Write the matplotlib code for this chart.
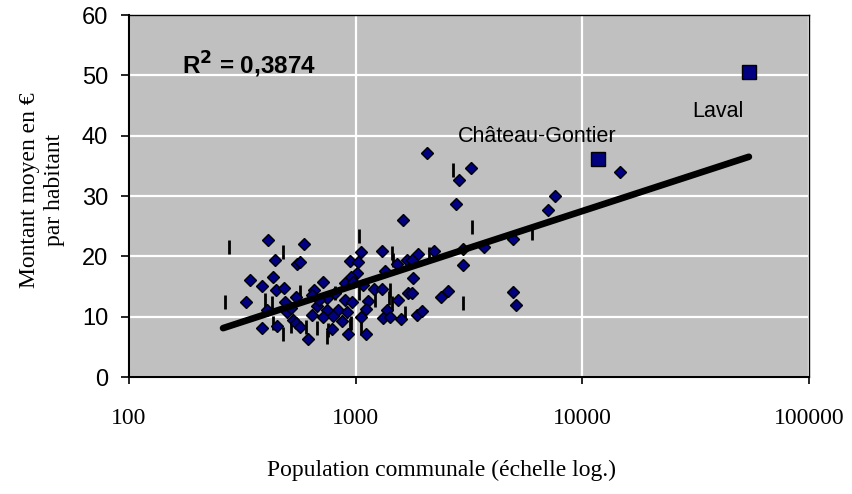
import matplotlib
matplotlib.use("Agg")
import matplotlib.pyplot as plt
from matplotlib.ticker import FixedLocator, FixedFormatter, NullLocator

# ---- data ----
commune_pop = [441, 551, 568, 342, 386, 432, 445, 483, 328, 406, 449, 386, 498, 529, 545,
               568, 616, 488, 545, 410, 592, 518,
               1055, 1306, 944, 1023, 1521, 1683, 1346, 1014, 953, 718, 655, 897, 1077,
               1205, 1306, 1538, 1702, 811, 747, 897, 963, 675, 747, 836, 1133, 1110,
               916, 1374, 641, 718, 794, 1055, 1318, 1416, 1585, 870, 786, 925, 1110,
               641, 690, 973,
               1884, 2213, 1770, 2972, 3682, 4943, 2972, 1791, 1770, 2377, 2553, 4943,
               5093, 1862, 1960, 2065, 3226, 2856, 2768, 1618, 7568, 7047, 14650]
commune_val = [19.4, 18.7, 19.1, 16.0, 15.1, 16.6, 14.4, 14.7, 12.4, 11.1, 8.5, 8.2, 10.8, 9.5, 8.9,
               8.3, 6.3, 12.5, 13.3, 22.7, 22.1, 11.4,
               20.8, 20.9, 19.3, 19.0, 18.7, 19.4, 17.5, 17.3, 16.5, 15.8, 14.4, 15.5, 15.3,
               14.6, 14.6, 12.8, 13.9, 13.9, 13.1, 12.8, 12.5, 11.7, 11.1, 11.1, 12.6, 11.2,
               10.7, 11.1, 10.3, 9.9, 10.1, 9.9, 9.8, 10.0, 9.6, 9.3, 7.9, 7.1, 7.1,
               13.6, 12.8, 15.8,
               20.4, 20.9, 19.4, 21.2, 21.6, 22.8, 18.6, 16.4, 13.9, 13.2, 14.3, 14.1,
               11.9, 10.3, 11.0, 37.2, 34.6, 32.6, 28.6, 26.0, 30.0, 27.6, 34.0]

dash_pop = [276, 265, 398, 427, 432, 478, 478, 518, 568, 604, 675, 747, 811, 953, 1035,
            1216, 1403, 1462, 1035, 1446, 755, 944, 1055, 1649, 1416, 1446, 2104, 2686,
            3260, 2972, 5995]
dash_val = [21.6, 12.4, 12.8, 12.3, 8.9, 7.2, 20.8, 8.5, 14.1, 8.3, 8.1, 6.7, 13.9, 8.9, 13.9,
            12.8, 13.1, 19.4, 23.4, 20.5, 7.8, 8.6, 8.1, 10.6, 14.4, 12.2, 20.4, 34.3,
            24.9, 12.3, 23.8]

city_names = ["Château-Gontier", "Laval"]
city_pop = [11700, 54300]
city_val = [36.1, 50.5]
label_pos_x = [2830, 30400]
label_pos_y = [39.0, 43.1]

trend_pop = [260, 54300]
trend_val = [8.1, 36.5]

r2_text = "R$^{\\mathbf{2}}$ = 0,3874"

x_ticks = [100, 1000, 10000, 100000]
x_tick_labels = ["100", "1000", "10000", "100000"]
y_ticks = [0, 10, 20, 30, 40, 50, 60]
y_tick_labels = ["0", "10", "20", "30", "40", "50", "60"]

# ---- figure ----
fig = plt.figure(figsize=(8.53, 4.94), dpi=100)
ax = fig.add_axes([129/853, 1 - 377/494, (809 - 129)/853, (377 - 15)/494])
ax.set_facecolor("#C0C0C0")
ax.set_xscale("log")
ax.set_xlim(100, 100000)
ax.set_ylim(0, 60)

ax.xaxis.set_major_locator(FixedLocator(x_ticks))
ax.xaxis.set_major_formatter(FixedFormatter(x_tick_labels))
ax.xaxis.set_minor_locator(NullLocator())
ax.yaxis.set_major_locator(FixedLocator(y_ticks))
ax.yaxis.set_major_formatter(FixedFormatter(y_tick_labels))

ax.grid(True, color="white", linewidth=1.6, zorder=0)
ax.set_axisbelow(True)

for s in ax.spines.values():
    s.set_color("black")
    s.set_linewidth(1.0)
ax.spines["left"].set_linewidth(1.5)
ax.spines["bottom"].set_linewidth(1.5)

ax.tick_params(axis="y", direction="out", length=6, width=1.2, pad=9,
               labelsize=17, labelfontfamily="Liberation Sans")
ax.tick_params(axis="x", direction="out", length=5, width=1.2, pad=17,
               labelsize=17, labelfontfamily="Liberation Serif")

ax.plot(dash_pop, dash_val, linestyle="none", marker="|", markersize=9.5,
        markeredgewidth=2.0, color="black", zorder=3)
ax.plot(commune_pop, commune_val, linestyle="none", marker="D", markersize=6.5,
        markerfacecolor="#000080", markeredgecolor="black", markeredgewidth=1.0, zorder=4)
ax.plot(trend_pop, trend_val, color="black", linewidth=4.8, solid_capstyle="round", zorder=5)
ax.plot(city_pop, city_val, linestyle="none", marker="s", markersize=9.5,
        markerfacecolor="#000080", markeredgecolor="black", markeredgewidth=1.0, zorder=6)

for name, lx, ly in zip(city_names, label_pos_x, label_pos_y):
    ax.text(lx, ly, name, fontsize=15.5, family="Liberation Sans", ha="left",
            va="baseline", color="black", zorder=7)

ax.text(171, 50.2, r2_text, fontsize=17.5, fontweight="bold", family="Liberation Sans",
        ha="left", va="baseline", zorder=7)

fig.text(42/853, 1 - 190/494, "Montant moyen en €\npar habitant", rotation=90,
         ha="center", va="center", fontsize=17, family="Liberation Serif",
         linespacing=1.2, multialignment="center")
fig.text(442/853, 1 - 470/494, "Population communale (échelle log.)",
         ha="center", va="center", fontsize=17, family="Liberation Serif")

fig.savefig("out.png", dpi=100)
